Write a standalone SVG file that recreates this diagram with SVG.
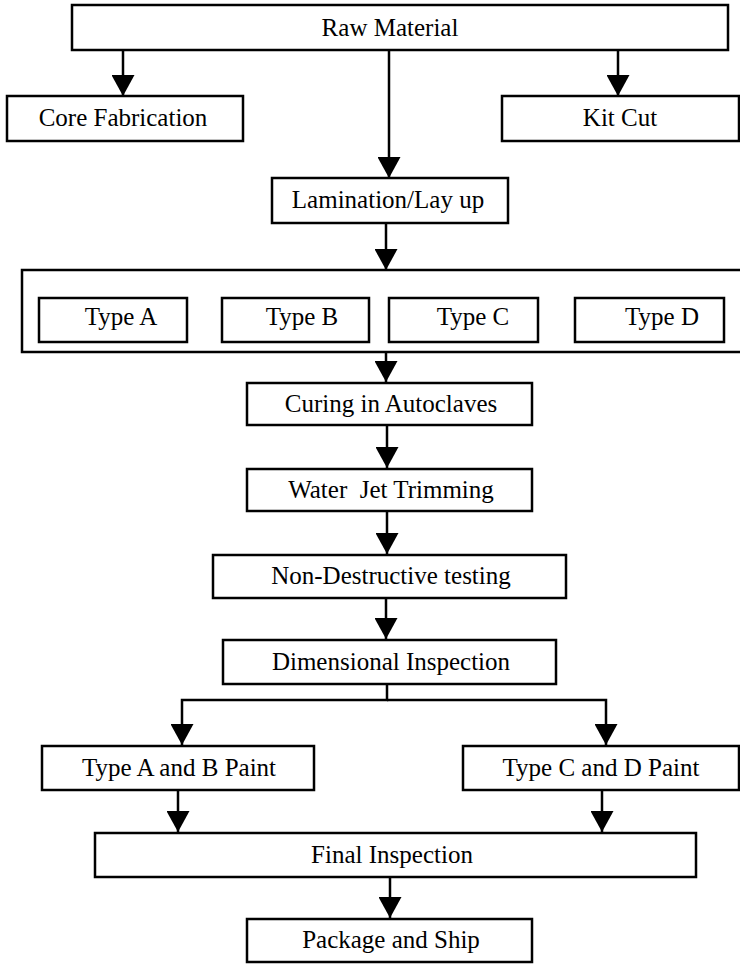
<svg xmlns="http://www.w3.org/2000/svg" width="740" height="974" viewBox="0 0 740 974">
<style>
.box{fill:#fff;stroke:#000;stroke-width:2.5}
.t{font-family:"Liberation Serif","DejaVu Serif",serif;font-size:25px;fill:#000;text-anchor:middle}
.c{fill:none;stroke:#000;stroke-width:2.5}
</style>
<defs>
<marker id="ah" markerUnits="userSpaceOnUse" markerWidth="21" markerHeight="23" refX="21" refY="11.5" orient="auto" viewBox="0 0 21 23">
<path d="M0,0 L21,11.5 L0,23 Z" fill="#000"/>
</marker>
</defs>
<rect width="740" height="974" fill="#fff"/>
<g id="connectors">
<line class="c" x1="123" y1="50" x2="123" y2="96" marker-end="url(#ah)"/>
<line class="c" x1="618" y1="50" x2="618" y2="96" marker-end="url(#ah)"/>
<line class="c" x1="389" y1="50" x2="389" y2="178" marker-end="url(#ah)"/>
<line class="c" x1="386" y1="223" x2="386" y2="270" marker-end="url(#ah)"/>
<line class="c" x1="386" y1="352" x2="386" y2="382" marker-end="url(#ah)"/>
<line class="c" x1="387" y1="425" x2="387" y2="468" marker-end="url(#ah)"/>
<line class="c" x1="387" y1="511" x2="387" y2="554" marker-end="url(#ah)"/>
<line class="c" x1="386" y1="598" x2="386" y2="639" marker-end="url(#ah)"/>
<path class="c" d="M387,684 V700 H182 V745" marker-end="url(#ah)"/>
<path class="c" d="M387,700 H606 V745" marker-end="url(#ah)"/>
<line class="c" x1="178" y1="790" x2="178" y2="832" marker-end="url(#ah)"/>
<line class="c" x1="602" y1="790" x2="602" y2="832" marker-end="url(#ah)"/>
<line class="c" x1="390" y1="877" x2="390" y2="918" marker-end="url(#ah)"/>
</g>
<g id="raw-material"><rect class="box" x="72" y="5" width="656" height="45"/><text class="t" x="390" y="36">Raw Material</text></g>
<g id="core-fabrication"><rect class="box" x="7" y="96" width="236" height="45"/><text class="t" x="123" y="126">Core Fabrication</text></g>
<g id="kit-cut"><rect class="box" x="502" y="96" width="237" height="45"/><text class="t" x="620" y="126">Kit Cut</text></g>
<g id="lamination"><rect class="box" x="272" y="178" width="236" height="45"/><text class="t" x="388" y="208">Lamination/Lay up</text></g>
<g id="types-container"><rect class="box" x="22" y="270" width="730" height="82"/></g>
<g id="type-a"><rect class="box" x="39" y="298" width="148" height="44"/><text class="t" x="121" y="325">Type A</text></g>
<g id="type-b"><rect class="box" x="222" y="298" width="147" height="44"/><text class="t" x="302" y="325">Type B</text></g>
<g id="type-c"><rect class="box" x="389" y="298" width="149" height="44"/><text class="t" x="473" y="325">Type C</text></g>
<g id="type-d"><rect class="box" x="575" y="298" width="149" height="44"/><text class="t" x="662" y="325">Type D</text></g>
<g id="curing"><rect class="box" x="247" y="383" width="285" height="42"/><text class="t" x="391" y="412">Curing in Autoclaves</text></g>
<g id="water-jet"><rect class="box" x="247" y="469" width="285" height="42"/><text class="t" x="391" y="498" xml:space="preserve">Water  Jet Trimming</text></g>
<g id="ndt"><rect class="box" x="213" y="555" width="353" height="43"/><text class="t" x="391" y="584">Non-Destructive testing</text></g>
<g id="dimensional"><rect class="box" x="223" y="640" width="333" height="44"/><text class="t" x="391" y="670">Dimensional Inspection</text></g>
<g id="paint-ab"><rect class="box" x="42" y="746" width="272" height="44"/><text class="t" x="179" y="776">Type A and B Paint</text></g>
<g id="paint-cd"><rect class="box" x="463" y="746" width="276" height="44"/><text class="t" x="601" y="776">Type C and D Paint</text></g>
<g id="final-inspection"><rect class="box" x="95" y="833" width="601" height="44"/><text class="t" x="392" y="863">Final Inspection</text></g>
<g id="package-ship"><rect class="box" x="247" y="919" width="285" height="43"/><text class="t" x="391" y="948">Package and Ship</text></g>
</svg>
